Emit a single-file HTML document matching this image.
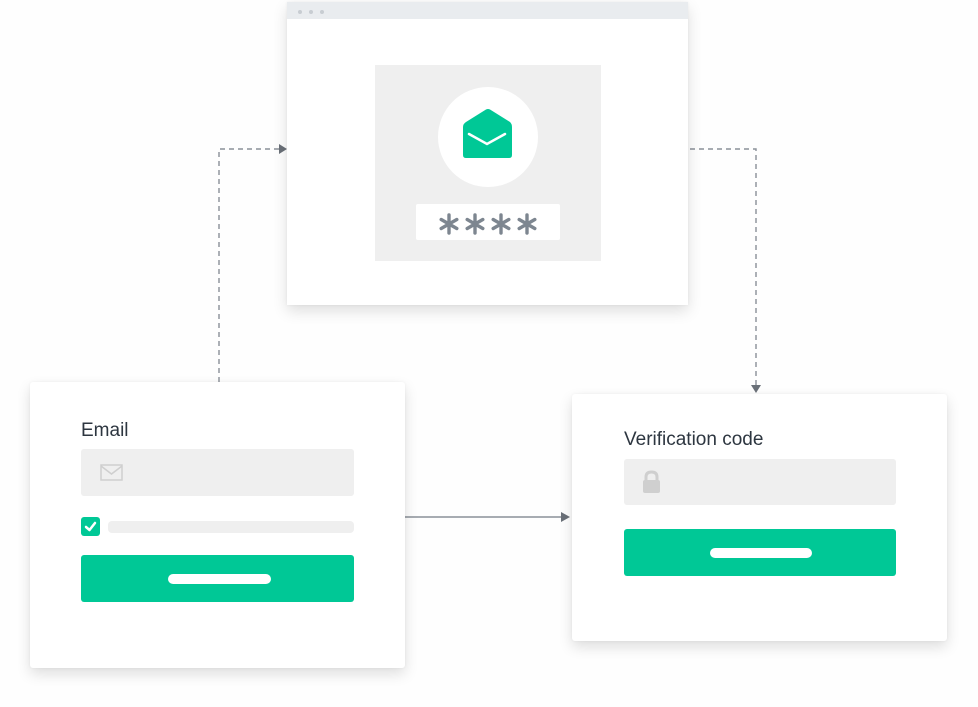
<!DOCTYPE html>
<html><head><meta charset="utf-8"><style>
*{margin:0;padding:0;box-sizing:border-box}
body{width:978px;height:707px;background:#fefefe;position:relative;overflow:hidden;font-family:"Liberation Sans",sans-serif}
.a{position:absolute}
.card{background:#fff;box-shadow:0 6px 14px rgba(0,0,0,0.13),0 0 3px rgba(0,0,0,0.05);border-radius:3px}
.in{background:#efefef;border-radius:3px}
.btn{background:#00c896;border-radius:3px}
.bar{background:#fff;border-radius:5px}
.lbl{color:#2d3640;font-size:19px}
</style></head><body>
<svg class="a" style="left:0;top:0" width="978" height="707">
<g stroke="#8a9098" stroke-width="1.4" fill="none" stroke-dasharray="5,4">
<path d="M219 382 V149 H280"/>
<path d="M690 149 H756 V386"/>
</g>
<path d="M405 517 H562" stroke="#8a9098" stroke-width="1.4"/>
<path d="M279 144 L287 149 L279 154Z" fill="#6a7078"/>
<path d="M751 385 L756 393 L761 385Z" fill="#6a7078"/>
<path d="M561 512 L570 517 L561 522Z" fill="#6a7078"/>
</svg>
<div class="a card" style="left:287px;top:2px;width:401px;height:303px;border-radius:0">
 <div class="a" style="left:0;top:0;width:401px;height:17px;background:#e9ecef"></div>
 <div class="a" style="left:11px;top:8px;width:4px;height:4px;border-radius:50%;background:#c8cdd2"></div>
 <div class="a" style="left:22px;top:8px;width:4px;height:4px;border-radius:50%;background:#c8cdd2"></div>
 <div class="a" style="left:33px;top:8px;width:4px;height:4px;border-radius:50%;background:#c8cdd2"></div>
</div>
<div class="a" style="left:375px;top:65px;width:226px;height:196px;background:#efefef"></div>
<div class="a" style="left:438px;top:87px;width:100px;height:100px;border-radius:50%;background:#fff"></div>
<svg class="a" style="left:462px;top:108px" width="52" height="52">
<path d="M1 19 Q1 16 4 14 L24 1.5 Q26 0.5 28 1.5 L48 14 Q50 16 50 19 V47 Q50 50 47 50 H4 Q1 50 1 47Z" fill="#00c896"/>
<path d="M7 26 L25 36 L43 26" stroke="#fff" stroke-width="2.5" fill="none" stroke-linecap="round"/>
</svg>
<div class="a" style="left:416px;top:204px;width:144px;height:36px;background:#fff;border-radius:2px"></div>
<svg class="a" style="left:416px;top:204px" width="144" height="36">
<g stroke="#7d8690" stroke-width="3.4" stroke-linecap="round">
<g transform="translate(33,20)"><path d="M0 -9 V9 M-7.8 -4.5 L7.8 4.5 M-7.8 4.5 L7.8 -4.5"/></g>
<g transform="translate(59,20)"><path d="M0 -9 V9 M-7.8 -4.5 L7.8 4.5 M-7.8 4.5 L7.8 -4.5"/></g>
<g transform="translate(85,20)"><path d="M0 -9 V9 M-7.8 -4.5 L7.8 4.5 M-7.8 4.5 L7.8 -4.5"/></g>
<g transform="translate(111,20)"><path d="M0 -9 V9 M-7.8 -4.5 L7.8 4.5 M-7.8 4.5 L7.8 -4.5"/></g>
</g>
</svg>

<div class="a card" style="left:30px;top:382px;width:375px;height:286px"></div>
<div class="a lbl" style="left:81px;top:420px">Email</div>
<div class="a in" style="left:81px;top:449px;width:273px;height:47px"></div>
<svg class="a" style="left:100px;top:464px" width="24" height="18"><rect x="1" y="1" width="21" height="15" fill="none" stroke="#cfcfcf" stroke-width="1.5"/><path d="M1 2 L11.5 10 L22 2" stroke="#cfcfcf" stroke-width="1.5" fill="none"/></svg>
<div class="a btn" style="left:81px;top:517px;width:19px;height:19px"></div>
<svg class="a" style="left:81px;top:517px" width="19" height="19"><path d="M5 10 L8.5 13 L14 6" stroke="#fff" stroke-width="2.5" fill="none" stroke-linecap="round" stroke-linejoin="round"/></svg>
<div class="a in" style="left:108px;top:521px;width:246px;height:12px;border-radius:4px"></div>
<div class="a btn" style="left:81px;top:555px;width:273px;height:47px"></div>
<div class="a bar" style="left:168px;top:574px;width:103px;height:10px"></div>

<div class="a card" style="left:572px;top:394px;width:375px;height:247px"></div>
<div class="a lbl" style="left:624px;top:429px">Verification code</div>
<div class="a in" style="left:624px;top:459px;width:272px;height:46px"></div>
<svg class="a" style="left:641px;top:470px" width="22" height="24"><path d="M5 11 V7 Q5 2 10.5 2 Q16 2 16 7 V11" stroke="#cfcfcf" stroke-width="3" fill="none"/><rect x="2" y="10" width="17" height="13" rx="2" fill="#cfcfcf"/></svg>
<div class="a btn" style="left:624px;top:529px;width:272px;height:47px"></div>
<div class="a bar" style="left:710px;top:548px;width:102px;height:10px"></div>
</body></html>
